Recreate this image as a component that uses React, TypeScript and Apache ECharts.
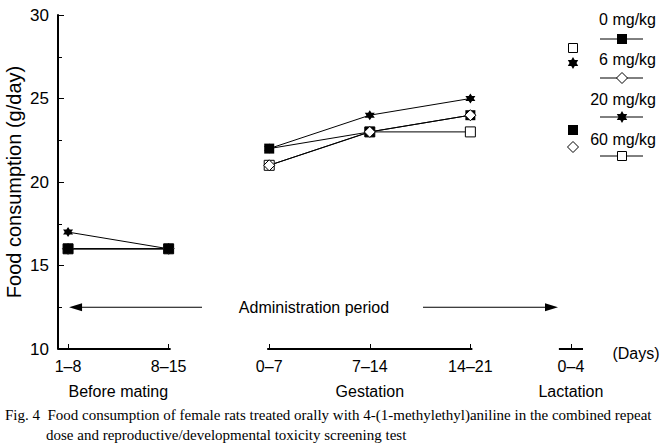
import React, { useEffect, useRef } from "react";
import * as echarts from "echarts";

const periods = ["1–8", "8–15", "0–7", "7–14", "14–21", "0–4"];
const phaseLabels = ["Before mating", "Gestation", "Lactation"];
const phaseCenters = [0.5, 3, 5];
const doseNames = ["0 mg/kg", "6 mg/kg", "20 mg/kg", "60 mg/kg"];
// values for periods 0..4 (no lactation data)
const dose0 = [16, 16, 22, 23, 24];
const dose6 = [16, 16, 21, 23, 24];
const dose20 = [17, 16, 22, 24, 25];
const dose60 = [16, 16, 21, 23, 23];
const yTicks = [10, 15, 20, 25, 30];

const FONT = "'Liberation Sans', Arial, sans-serif";
const SERIF = "'Liberation Serif', 'DejaVu Serif', serif";

const STAR_PATH =
  "path://M100 0L128.9 50L186.6 50L157.7 100L186.6 150L128.9 150L100 200L71.1 150L13.4 150L42.3 100L13.4 50L71.1 50Z";

function starPoints(cx: number, cy: number, R: number) {
  const pts: number[][] = [];
  for (let k = 0; k < 12; k++) {
    const a = (-90 + k * 30) * (Math.PI / 180);
    const r = k % 2 === 0 ? R : R / Math.sqrt(3);
    pts.push([cx + r * Math.cos(a), cy + r * Math.sin(a)]);
  }
  return pts;
}

type Marker = "fsquare" | "diamond" | "star" | "osquare";

function markerGraphic(kind: Marker, cx: number, cy: number): any {
  const s = 5;
  if (kind === "fsquare")
    return { type: "rect", shape: { x: cx - s, y: cy - s, width: 2 * s, height: 2 * s }, style: { fill: "#000" } };
  if (kind === "osquare")
    return {
      type: "rect",
      shape: { x: cx - s + 0.5, y: cy - s + 0.5, width: 2 * s - 1, height: 2 * s - 1 },
      style: { fill: "#fff", stroke: "#000", lineWidth: 1 },
    };
  if (kind === "diamond")
    return {
      type: "polygon",
      shape: { points: [[cx, cy - s - 0.5], [cx + s + 0.5, cy], [cx, cy + s + 0.5], [cx - s - 0.5, cy]] },
      style: { fill: "#fff", stroke: "#000", lineWidth: 1 },
    };
  return { type: "polygon", shape: { points: starPoints(cx, cy, 6) }, style: { fill: "#000" } };
}

export default function App() {
  const ref = useRef<HTMLDivElement>(null);
  useEffect(() => {
    if (!ref.current) return;
    const chart = echarts.init(ref.current, undefined, { renderer: "svg" });

    const doseDefs: Record<string, any> = {
      d0: { name: doseNames[0], vals: dose0, symbol: "rect", fill: "#000" },
      d6: { name: doseNames[1], vals: dose6, symbol: "diamond", fill: "#fff" },
      d20: { name: doseNames[2], vals: dose20, symbol: STAR_PATH, fill: "#000" },
      d60: { name: doseNames[3], vals: dose60, symbol: "rect", fill: "#fff" },
    };
    // drawing order differs per phase so overlapping markers stack like the original
    const parts = [
      { idx: [0, 1], order: ["d60", "d6", "d0", "d20"] },
      { idx: [2, 3, 4], order: ["d60", "d0", "d20", "d6"] },
    ];
    const series: any[] = [];
    parts.forEach((p) => {
      p.order.forEach((k) => {
        const d = doseDefs[k];
        series.push({
          type: "line",
          name: d.name,
          data: p.idx.map((i) => [i, d.vals[i]]),
          symbol: d.symbol,
          symbolSize: d.symbol === "diamond" ? 11 : 10,
          showSymbol: true,
          lineStyle: { color: "#000", width: 1 },
          itemStyle: { color: d.fill, borderColor: "#000", borderWidth: d.fill === "#fff" ? 1 : 0 },
          emphasis: { disabled: true },
        });
      });
    });

    chart.setOption({
      animation: false,
      grid: { left: 58, top: 15, width: 523, bottom: 95, containLabel: false, outerBoundsMode: "none" },
      xAxis: {
        type: "value",
        min: -0.1,
        max: 5.1,
        axisLine: { show: false, onZero: false },
        splitLine: { show: false },
        axisTick: {
          show: true,
          inside: true,
          length: 5,
          customValues: periods.map((_, i) => i),
          lineStyle: { color: "#000", width: 1 },
        },
        axisLabel: {
          customValues: periods.map((_, i) => i),
          formatter: (v: number) => periods[Math.round(v)] ?? "",
          color: "#000",
          fontFamily: FONT,
          fontSize: 16,
          margin: 9,
        },
      },
      yAxis: {
        type: "value",
        min: 10,
        max: 30,
        interval: 5,
        name: "Food consumption (g/day)",
        nameLocation: "middle",
        nameGap: 34,
        nameMoveOverlap: false,
        nameTextStyle: { color: "#000", fontFamily: FONT, fontSize: 20 },
        axisLine: { show: true, onZero: false, lineStyle: { color: "#000", width: 2 } },
        axisTick: { show: true, inside: true, length: 6, lineStyle: { color: "#000", width: 1 } },
        minorTick: { show: true, splitNumber: 2, length: 4, lineStyle: { color: "#000", width: 1 } },
        splitLine: { show: false },
        axisLabel: {
          color: "#000",
          fontFamily: FONT,
          fontSize: 17,
          margin: 9,
          formatter: (v: number) => (yTicks.includes(v) ? String(v) : ""),
        },
      },
      series,
    });

    const px = (x: number) => chart.convertToPixel({ xAxisIndex: 0 }, x) as number;
    const py = (y: number) => chart.convertToPixel({ yAxisIndex: 0 }, y) as number;
    const y0 = py(10);
    const segs = [
      [-0.1, 1.02],
      [1.98, 4.02],
      [4.88, 5.12],
    ];
    const graphics: any[] = [];
    segs.forEach(([a, b]) => {
      graphics.push({
        type: "line",
        shape: { x1: px(a), y1: y0, x2: px(b), y2: y0 },
        style: { stroke: "#000", lineWidth: 2 },
      });
    });
    // phase labels
    phaseLabels.forEach((t, i) => {
      graphics.push({
        type: "text",
        x: px(phaseCenters[i]),
        y: 391,
        style: { text: t, fill: "#000", font: `16px ${FONT}`, align: "center", verticalAlign: "middle" },
      });
    });
    graphics.push({
      type: "text",
      x: 636,
      y: 353,
      style: { text: "(Days)", fill: "#000", font: `16px ${FONT}`, align: "center", verticalAlign: "middle" },
    });
    // administration period arrow
    const ay = py(12.5);
    const xl = px(0) + 1;
    const xr = 558;
    graphics.push({
      type: "polygon",
      shape: { points: [[xl, ay], [xl + 13, ay - 4], [xl + 13, ay + 4]] },
      style: { fill: "#000" },
    });
    graphics.push({ type: "line", shape: { x1: xl + 12, y1: ay, x2: 202, y2: ay }, style: { stroke: "#000", lineWidth: 1 } });
    graphics.push({
      type: "text",
      x: 314,
      y: ay,
      style: { text: "Administration period", fill: "#000", font: `16px ${FONT}`, align: "center", verticalAlign: "middle" },
    });
    graphics.push({ type: "line", shape: { x1: 423, y1: ay, x2: xr - 12, y2: ay }, style: { stroke: "#000", lineWidth: 1 } });
    graphics.push({
      type: "polygon",
      shape: { points: [[xr, ay], [xr - 13, ay - 4], [xr - 13, ay + 4]] },
      style: { fill: "#000" },
    });
    // legend
    const legendMarkers: Marker[] = ["fsquare", "diamond", "star", "osquare"];
    const textY = [19, 59, 99, 139];
    const lineY = [39, 78, 117, 156];
    doseNames.forEach((n, i) => {
      graphics.push({
        type: "text",
        x: 656,
        y: textY[i],
        style: { text: n, fill: "#000", font: `16px ${FONT}`, align: "right", verticalAlign: "middle" },
      });
      graphics.push({ type: "line", shape: { x1: 600, y1: lineY[i], x2: 643, y2: lineY[i] }, style: { stroke: "#000", lineWidth: 1 } });
      graphics.push(markerGraphic(legendMarkers[i], 622, lineY[i]));
    });
    // stray legend markers
    graphics.push(markerGraphic("osquare", 573, 48));
    graphics.push(markerGraphic("star", 573, 63));
    graphics.push(markerGraphic("fsquare", 573, 130));
    graphics.push(markerGraphic("diamond", 573, 147));
    // caption
    graphics.push({
      type: "text",
      x: 5,
      y: 415,
      style: {
        text: "Fig. 4  Food consumption of female rats treated orally with 4-(1-methylethyl)aniline in the combined repeat",
        fill: "#000",
        font: `15px ${SERIF}`,
        align: "left",
        verticalAlign: "middle",
      },
    });
    graphics.push({
      type: "text",
      x: 46,
      y: 435,
      style: {
        text: "dose and reproductive/developmental toxicity screening test",
        fill: "#000",
        font: `15px ${SERIF}`,
        align: "left",
        verticalAlign: "middle",
      },
    });
    chart.setOption({ graphic: graphics });

    return () => chart.dispose();
  }, []);
  return (
    <div
      ref={ref}
      style={{ position: "fixed", left: 0, top: 0, width: 670, height: 444, background: "#fff" }}
    />
  );
}
